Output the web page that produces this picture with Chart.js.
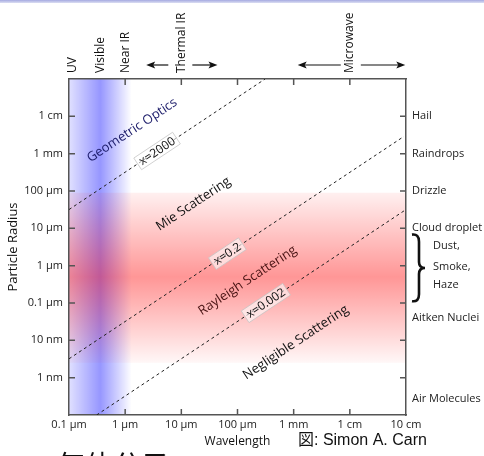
<!DOCTYPE html>
<html>
<head>
<meta charset="utf-8">
<script src="https://cdn.jsdelivr.net/npm/chart.js@4"></script>
<style>
  body { margin: 0; background: #fff; }
  canvas { display: block; }
</style>
</head>
<body>
<canvas id="myChart" width="484" height="456"></canvas>
<script>
// wavelength axis (m)
var lamTicks  = [1e-7, 1e-6, 1e-5, 1e-4, 1e-3, 1e-2, 1e-1];
var lamLabels = ['0.1 μm', '1 μm', '10 μm', '100 μm', '1 mm', '1 cm', '10 cm'];

// particle radius axis (m)
var radTicks  = [1e-9, 1e-8, 1e-7, 1e-6, 1e-5, 1e-4, 1e-3, 1e-2];
var radLabels = ['1 nm', '10 nm', '0.1 μm', '1 μm', '10 μm', '100 μm', '1 mm', '1 cm'];

// right side particle types
var typeRadii = [1e-2, 1e-3, 1e-4, 1e-5, 4.1e-8, 2.7e-10];
var typeNames = ['Hail', 'Raindrops', 'Drizzle', 'Cloud droplet', 'Aitken Nuclei', 'Air Molecules'];
var aerosolNames = ['Dust,', 'Smoke,', 'Haze'];
var aerosolRadii = [3.4e-6, 9.4e-7, 3.1e-7];
var braceRange = [7.2e-6, 1.05e-7];

// size parameter boundaries x = 2πr/λ  (λ, r)
var sizeParams = ['x=2000', 'x=0.2', 'x=0.002'];
var lineLam = [[1e-7, 3.1e-4], [1e-7, 0.092], [3.1e-7, 0.092]];
var lineRad = [[3.18e-5, 0.1], [3.2e-9, 2.9e-3], [1e-10, 2.93e-5]];
var tagLam = [3.7e-6, 6.6e-5, 3.2e-4];
var tagRad = [1.18e-3, 2.1e-6, 1.0e-7];

// regimes
var regimeNames = ['Geometric Optics', 'Mie Scattering', 'Rayleigh Scattering', 'Negligible Scattering'];
var regimeLam = [1.33e-6, 1.64e-5, 1.51e-4, 1.09e-3];
var regimeRad = [4.2e-3, 4.5e-5, 4.0e-7, 8.8e-9];
var regimeColors = ['#1c1c6a', '#111111', '#4a1414', '#111111'];

// spectral bands on top
var bandNames = ['UV', 'Visible', 'Near IR', 'Thermal IR', 'Microwave'];
var bandLam = [1.18e-7, 3.6e-7, 1e-6, 1e-5, 1e-2];
var arrowLam = [[5.86e-6, 2.37e-6], [1.57e-5, 4.4e-5], [6.9e-3, 1.18e-3], [1.57e-2, 9.7e-2]];

// shaded bands: visible light (λ) and atmospheric aerosols (r)
var blueBand = [1e-7, 3.6e-7, 1.3e-6];
var redBand = [9e-5, 5e-7, 2.5e-9];

var FONT = '"Open Sans", "Noto Sans", sans-serif';

function toPts(xs, ys) {
    return xs.map(function (v, i) { return { x: v, y: ys[i] }; });
}

var datasets = sizeParams.map(function (name, i) {
    return {
        label: name,
        data: toPts(lineLam[i], lineRad[i]),
        showLine: true,
        borderColor: '#222',
        borderWidth: 1,
        borderDash: [3, 3],
        pointRadius: 0,
        fill: false
    };
});

function slopeAngle(chart) {
    var sx = chart.scales.x, sy = chart.scales.y;
    var dx = sx.getPixelForValue(1e-4) - sx.getPixelForValue(1e-5);
    var dy = sy.getPixelForValue(1e-5) - sy.getPixelForValue(1e-4);
    return Math.atan2(dy, dx);
}

var decor = {
    id: 'decor',
    beforeDraw: function (chart) {
        var ctx = chart.ctx, a = chart.chartArea;
        var sx = chart.scales.x, sy = chart.scales.y;
        ctx.save();
        ctx.fillStyle = '#fff';
        ctx.fillRect(0, 0, chart.width, chart.height);
        // thin bar at the very top
        var tg = ctx.createLinearGradient(0, 0, 0, 3);
        tg.addColorStop(0, 'rgb(165,170,225)');
        tg.addColorStop(1, 'rgb(220,222,242)');
        ctx.fillStyle = tg;
        ctx.fillRect(0, 0, chart.width, 3);

        // visible band
        var b0 = sx.getPixelForValue(blueBand[0]);
        var b1 = sx.getPixelForValue(blueBand[1]);
        var b2 = sx.getPixelForValue(blueBand[2]);
        var bg = ctx.createLinearGradient(b0, 0, b2, 0);
        bg.addColorStop(0, 'rgba(0,0,255,0.12)');
        bg.addColorStop((b1 - b0) / (b2 - b0), 'rgba(0,0,255,0.41)');
        bg.addColorStop(1, 'rgba(0,0,255,0)');
        ctx.fillStyle = bg;
        ctx.fillRect(b0, a.top, b2 - b0, a.bottom - a.top);

        // aerosol band
        var r0 = sy.getPixelForValue(redBand[0]);
        var r1 = sy.getPixelForValue(redBand[1]);
        var r2 = sy.getPixelForValue(redBand[2]);
        var rg = ctx.createLinearGradient(0, r0, 0, r2);
        rg.addColorStop(0, 'rgba(255,0,0,0.06)');
        rg.addColorStop((r1 - r0) / (r2 - r0), 'rgba(255,0,0,0.41)');
        rg.addColorStop(1, 'rgba(255,0,0,0.03)');
        ctx.fillStyle = rg;
        ctx.fillRect(a.left, r0, a.right - a.left, r2 - r0);
        ctx.restore();
    },
    afterDraw: function (chart) {
        var ctx = chart.ctx, a = chart.chartArea;
        var sx = chart.scales.x, sy = chart.scales.y;
        var ang = slopeAngle(chart);
        ctx.save();

        // inward tick marks
        ctx.strokeStyle = '#555';
        ctx.lineWidth = 1.5;
        ctx.beginPath();
        lamTicks.forEach(function (v) {
            var px = sx.getPixelForValue(v);
            if (px <= a.left + 1 || px >= a.right - 1) return;
            ctx.moveTo(px, a.bottom); ctx.lineTo(px, a.bottom - 6);
            ctx.moveTo(px, a.top); ctx.lineTo(px, a.top + 6);
        });
        radTicks.forEach(function (v) {
            var py = sy.getPixelForValue(v);
            ctx.moveTo(a.left, py); ctx.lineTo(a.left + 6, py);
            ctx.moveTo(a.right, py); ctx.lineTo(a.right - 6, py);
        });
        ctx.stroke();

        // size parameter tags on the lines
        ctx.font = '12px ' + FONT;
        ctx.textAlign = 'center';
        ctx.textBaseline = 'middle';
        sizeParams.forEach(function (t, i) {
            var px = sx.getPixelForValue(tagLam[i]);
            var py = sy.getPixelForValue(tagRad[i]);
            var w = ctx.measureText(t).width + 6;
            ctx.save();
            ctx.translate(px, py);
            ctx.rotate(-ang);
            ctx.fillStyle = 'rgba(255,255,255,0.6)';
            ctx.fillRect(-w / 2, -7, w, 14);
            ctx.strokeStyle = '#c4c4c4';
            ctx.lineWidth = 0.7;
            ctx.strokeRect(-w / 2, -7, w, 14);
            ctx.fillStyle = '#111';
            ctx.fillText(t, 0, 0.5);
            ctx.restore();
        });

        // regime names
        ctx.font = '13px ' + FONT;
        regimeNames.forEach(function (t, i) {
            ctx.save();
            ctx.translate(sx.getPixelForValue(regimeLam[i]), sy.getPixelForValue(regimeRad[i]));
            ctx.rotate(-ang);
            ctx.fillStyle = regimeColors[i];
            ctx.fillText(t, 0, 0);
            ctx.restore();
        });

        // spectral band names on top
        ctx.fillStyle = '#111';
        ctx.font = '12px ' + FONT;
        ctx.textAlign = 'left';
        bandNames.forEach(function (t, i) {
            ctx.save();
            ctx.translate(sx.getPixelForValue(bandLam[i]), a.top - 6);
            ctx.rotate(-Math.PI / 2);
            ctx.fillText(t, 0, 0);
            ctx.restore();
        });
        // arrows
        var ay = a.top - 14;
        ctx.strokeStyle = '#111';
        ctx.lineWidth = 1.2;
        arrowLam.forEach(function (pr) {
            var p0 = sx.getPixelForValue(pr[0]);
            var p1 = sx.getPixelForValue(pr[1]);
            var d = p1 > p0 ? 1 : -1;
            ctx.beginPath();
            ctx.moveTo(p0, ay); ctx.lineTo(p1 - d * 6, ay);
            ctx.stroke();
            ctx.beginPath();
            ctx.moveTo(p1, ay);
            ctx.lineTo(p1 - d * 9, ay - 3.5);
            ctx.lineTo(p1 - d * 7, ay);
            ctx.lineTo(p1 - d * 9, ay + 3.5);
            ctx.closePath();
            ctx.fill();
        });

        // brace and aerosol names
        var y2 = chart.scales.y2;
        var bt = y2.getPixelForValue(braceRange[0]);
        var bb = y2.getPixelForValue(braceRange[1]);
        var bm = (bt + bb) / 2;
        var bx = a.right + 13;
        ctx.lineWidth = 2.6;
        ctx.beginPath();
        ctx.moveTo(bx - 7, bt + 1);
        ctx.quadraticCurveTo(bx, bt, bx, bt + 8);
        ctx.lineTo(bx, bm - 6);
        ctx.quadraticCurveTo(bx, bm, bx + 6, bm);
        ctx.quadraticCurveTo(bx, bm, bx, bm + 6);
        ctx.lineTo(bx, bb - 8);
        ctx.quadraticCurveTo(bx, bb, bx - 7, bb - 1);
        ctx.stroke();
        ctx.font = '11px ' + FONT;
        ctx.fillStyle = '#222';
        ctx.textBaseline = 'middle';
        aerosolNames.forEach(function (t, i) {
            ctx.fillText(t, a.right + 27, y2.getPixelForValue(aerosolRadii[i]));
        });

        // credit and caption
        ctx.fillStyle = '#111';
        ctx.font = '16px "Liberation Sans", "Noto Sans CJK JP", sans-serif';
        ctx.textBaseline = 'middle';
        ctx.fillText('図: Simon A. Carn', 298, 441);
        ctx.font = '28px "Noto Sans CJK SC", sans-serif';
        ctx.textBaseline = 'alphabetic';
        ctx.fillText('气体分子', 57, 476);
        ctx.restore();
    }
};

var tickFont = { family: FONT, size: 11 };
var noGrid = { display: false, drawTicks: false };

var ctx = document.getElementById('myChart').getContext('2d');
var chart = new Chart(ctx, {
    type: 'scatter',
    data: { datasets: datasets },
    options: {
        responsive: false,
        animation: false,
        layout: { padding: 0 },
        plugins: { legend: { display: false }, tooltip: { enabled: false } },
        scales: {
            x: {
                type: 'logarithmic',
                position: 'bottom',
                min: 1e-7, max: 0.1,
                afterBuildTicks: function (s) { s.ticks = lamTicks.map(function (v) { return { value: v }; }); },
                afterFit: function (s) { s.height = 41; },
                grid: noGrid,
                border: { display: true, color: '#555', width: 1.5 },
                ticks: {
                    autoSkip: false, maxRotation: 0, padding: 3, color: '#222', font: tickFont,
                    callback: function (v, i) { return lamLabels[i]; }
                },
                title: {
                    display: true, text: 'Wavelength', color: '#111',
                    font: { family: FONT, size: 12 }, padding: { top: 0, bottom: 7 }
                }
            },
            x2: {
                type: 'logarithmic',
                position: 'top',
                min: 1e-7, max: 0.1,
                afterFit: function (s) { s.height = 79; },
                grid: noGrid,
                border: { display: true, color: '#555', width: 1.5 },
                ticks: { display: false }
            },
            y: {
                type: 'logarithmic',
                position: 'left',
                min: 1e-10, max: 0.1,
                afterBuildTicks: function (s) { s.ticks = radTicks.map(function (v) { return { value: v }; }); },
                afterFit: function (s) { s.width = 69; },
                grid: noGrid,
                border: { display: true, color: '#555', width: 1.5 },
                ticks: {
                    autoSkip: false, padding: 6, color: '#222', font: tickFont,
                    callback: function (v, i) { return radLabels[i]; }
                },
                title: {
                    display: true, text: 'Particle Radius', color: '#111',
                    font: { family: FONT, size: 13 }, padding: { top: 5, bottom: 0 }
                }
            },
            y2: {
                type: 'logarithmic',
                position: 'right',
                min: 1e-10, max: 0.1,
                afterBuildTicks: function (s) { s.ticks = typeRadii.map(function (v) { return { value: v }; }); },
                afterFit: function (s) { s.width = 78; },
                grid: noGrid,
                border: { display: true, color: '#555', width: 1.5 },
                ticks: {
                    autoSkip: false, padding: 6, color: '#222', font: tickFont,
                    callback: function (v, i) { return typeNames[i]; }
                }
            }
        }
    },
    plugins: [decor]
});
</script>
</body>
</html>
